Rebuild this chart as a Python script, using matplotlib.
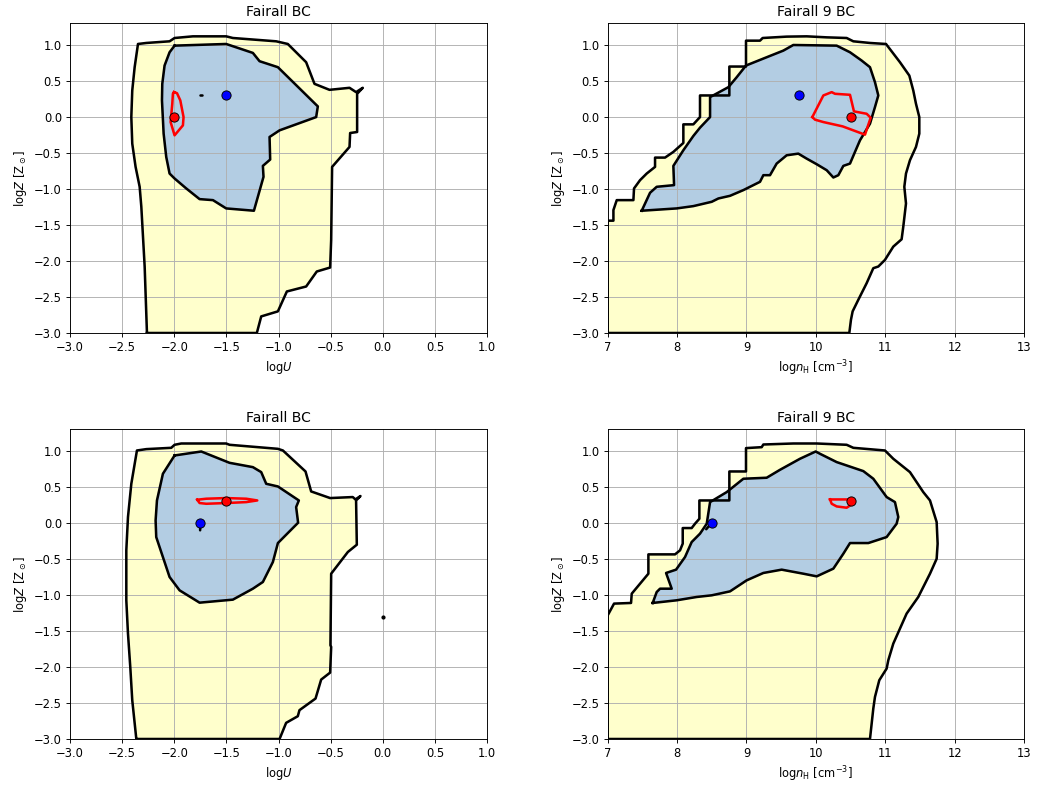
import matplotlib
matplotlib.use("Agg")
import matplotlib.pyplot as plt
import numpy as np

# ---------------- data (contour vertices in data coordinates) ----------------
# Panel 1: Fairall BC, logU
p1_outer_x = [-2.262, -2.284, -2.316, -2.332, -2.371, -2.403, -2.412, -2.403, -2.380, -2.348,
              -2.268, -2.045, -1.997, -1.821, -1.502, -1.438, -1.022, -0.911, -0.735, -0.655,
              -0.511, -0.319, -0.256, -0.192, -0.246, -0.246, -0.313, -0.319, -0.486, -0.495,
              -0.505, -0.633, -0.735, -0.920, -1.006, -1.166, -1.208]
p1_outer_y = [-3.0, -2.078, -1.249, -0.972, -0.696, -0.373, -0.005, 0.364, 0.687, 1.009,
              1.023, 1.046, 1.092, 1.115, 1.115, 1.092, 1.046, 1.009, 0.756, 0.456,
              0.373, 0.401, 0.341, 0.401, 0.318, -0.212, -0.226, -0.419, -0.696, -1.710,
              -2.092, -2.147, -2.355, -2.424, -2.700, -2.770, -3.0]
p1_inner_x = [-1.997, -1.502, -1.246, -1.182, -1.006, -0.623, -0.639, -0.990, -1.086, -1.080,
              -1.150, -1.144, -1.236, -1.502, -1.629, -1.757, -1.885, -1.997, -2.045, -2.077,
              -2.102, -2.118, -2.115, -2.093, -2.045]
p1_inner_y = [0.986, 1.009, 0.885, 0.770, 0.687, 0.143, -0.005, -0.189, -0.281, -0.594,
              -0.682, -0.834, -1.304, -1.272, -1.157, -1.143, -0.995, -0.857, -0.788, -0.558,
              -0.235, 0.226, 0.456, 0.710, 0.894]
p1_red_x = [-2.003, -1.974, -1.942, -1.911, -1.917, -1.997, -2.035, -2.019, -2.013]
p1_red_y = [0.341, 0.327, 0.226, -0.005, -0.120, -0.258, -0.074, 0.180, 0.318]
p1_speck_x = [-1.755, -1.735]
p1_speck_y = [0.296, 0.296]
p1_red_pt = (-2.0, 0.0)
p1_blue_pt = (-1.5, 0.3)

# Panel 2: Fairall 9 BC, log nH
p2_outer_x = [7.0, 7.0, 7.082, 7.082, 7.130, 7.370, 7.379, 7.466, 7.562, 7.682, 7.682, 7.826,
              7.946, 8.090, 8.090, 8.234, 8.330, 8.330, 8.753, 8.753, 8.993, 8.993, 9.195,
              9.233, 9.579, 9.867, 10.156, 10.444, 10.540, 10.780, 11.011, 11.212, 11.347,
              11.404, 11.443, 11.491, 11.491, 11.443, 11.356, 11.299, 11.275, 11.299, 11.260,
              11.236, 11.116, 10.996, 10.900, 10.828, 10.732, 10.612, 10.530, 10.506, 10.482]
p2_outer_y = [-3.0, -1.442, -1.442, -1.295, -1.157, -1.157, -0.995, -0.880, -0.788, -0.696,
              -0.567, -0.567, -0.488, -0.364, -0.106, -0.106, -0.005, 0.295, 0.295, 0.696,
              0.696, 1.055, 1.055, 1.092, 1.111, 1.115, 1.101, 1.092, 1.046, 1.023, 1.009,
              0.756, 0.571, 0.364, 0.180, -0.005, -0.235, -0.419, -0.604, -0.788, -0.972,
              -1.203, -1.525, -1.700, -1.802, -1.986, -2.078, -2.101, -2.309, -2.539, -2.700,
              -2.816, -3.0]
p2_inner_x = [7.490, 7.994, 8.234, 8.499, 8.595, 8.763, 8.955, 9.195, 9.243, 9.339, 9.435,
              9.579, 9.747, 9.867, 10.012, 10.156, 10.252, 10.324, 10.396, 10.492, 10.564,
              10.636, 10.780, 10.852, 10.900, 10.852, 10.780, 10.660, 10.492, 10.300, 9.675,
              9.531, 9.291, 9.195, 8.993, 8.859, 8.739, 8.475, 8.475, 8.330, 8.234, 8.090,
              7.946, 7.956, 7.706, 7.610]
p2_inner_y = [-1.304, -1.272, -1.240, -1.180, -1.134, -1.097, -1.018, -0.903, -0.811, -0.811,
              -0.650, -0.535, -0.512, -0.581, -0.659, -0.742, -0.843, -0.811, -0.682, -0.650,
              -0.488, -0.327, -0.097, 0.134, 0.295, 0.479, 0.687, 0.779, 0.894, 0.986, 0.995,
              0.917, 0.825, 0.788, 0.710, 0.548, 0.410, 0.272, -0.005, -0.152, -0.267, -0.465,
              -0.682, -0.949, -0.972, -1.055]
p2_red_x = [9.949, 10.108, 10.228, 10.276, 10.492, 10.549, 10.732, 10.790, 10.708, 10.386,
            10.108, 9.988]
p2_red_y = [-0.005, 0.295, 0.341, 0.318, 0.304, 0.074, 0.041, -0.014, -0.249, -0.134,
            -0.074, -0.041]
p2_red_pt = (10.5, 0.0)
p2_blue_pt = (9.75, 0.3)

# Panel 3: Fairall BC, logU
p3_outer_x = [-2.364, -2.403, -2.422, -2.444, -2.460, -2.460, -2.444, -2.412, -2.358, -2.268,
              -2.029, -1.997, -1.933, -1.502, -1.470, -1.006, -0.958, -0.741, -0.687, -0.505,
              -0.288, -0.262, -0.214, -0.256, -0.249, -0.335, -0.495, -0.502, -0.495, -0.505,
              -0.591, -0.645, -0.799, -0.815, -0.927, -0.990]
p3_outer_y = [-3.0, -2.462, -2.0, -1.538, -1.076, -0.383, 0.079, 0.540, 1.002, 1.021,
              1.039, 1.081, 1.099, 1.099, 1.081, 1.025, 1.002, 0.711, 0.434, 0.342,
              0.356, 0.323, 0.370, 0.309, -0.305, -0.406, -0.707, -1.700, -1.723, -2.079,
              -2.176, -2.439, -2.600, -2.684, -2.776, -3.0]
p3_inner_x = [-1.997, -1.741, -1.470, -1.246, -1.166, -1.118, -1.006, -0.805, -0.831, -0.812,
              -1.006, -1.054, -1.150, -1.246, -1.438, -1.757, -1.949, -2.045, -2.173, -2.179,
              -2.166, -2.109]
p3_inner_y = [0.933, 0.988, 0.831, 0.771, 0.702, 0.540, 0.503, 0.309, 0.217, 0.0,
              -0.282, -0.545, -0.822, -0.915, -1.067, -1.109, -0.938, -0.753, -0.199, 0.032,
              0.309, 0.679]
p3_red_x = [-1.780, -1.693, -1.502, -1.310, -1.204, -1.310, -1.502, -1.693, -1.757]
p3_red_y = [0.319, 0.333, 0.342, 0.333, 0.309, 0.286, 0.273, 0.263, 0.273]
p3_tail_x = [-1.75, -1.752]
p3_tail_y = [0.0, -0.105]
p3_speck_x = [0.0]
p3_speck_y = [-1.307]
p3_red_pt = (-1.5, 0.3)
p3_blue_pt = (-1.75, 0.0)

# Panel 4: Fairall 9 BC, log nH
p4_outer_x = [7.0, 7.0, 7.091, 7.336, 7.346, 7.586, 7.586, 7.970, 8.042, 8.081, 8.081, 8.210,
              8.258, 8.321, 8.321, 8.753, 8.753, 8.993, 8.993, 9.219, 9.243, 9.675, 10.012,
              10.444, 10.540, 10.996, 11.116, 11.356, 11.548, 11.645, 11.741, 11.755, 11.741,
              11.645, 11.476, 11.308, 11.212, 11.116, 11.044, 11.020, 10.914, 10.852, 10.828,
              10.780]
p4_outer_y = [-3.0, -1.284, -1.122, -1.113, -0.984, -0.707, -0.439, -0.439, -0.383, -0.290,
              -0.074, -0.074, -0.014, 0.055, 0.309, 0.309, 0.711, 0.711, 1.035, 1.048, 1.085,
              1.099, 1.099, 1.081, 1.039, 1.002, 0.887, 0.702, 0.425, 0.309, 0.009, -0.291,
              -0.500, -0.707, -1.030, -1.261, -1.469, -1.677, -1.908, -2.023, -2.185, -2.416,
              -2.577, -3.0]
p4_inner_x = [7.648, 7.706, 7.754, 7.922, 7.841, 7.985, 8.114, 8.210, 8.330, 8.427, 8.475,
              8.715, 8.955, 9.291, 9.483, 9.771, 9.997, 10.060, 10.300, 10.684, 10.828, 11.020,
              11.140, 11.188, 11.164, 11.020, 10.756, 10.492, 10.396, 10.252, 10.012, 9.819,
              9.507, 9.243, 9.003, 8.763, 8.499, 8.282, 7.994]
p4_inner_y = [-1.113, -0.961, -0.915, -0.915, -0.697, -0.651, -0.476, -0.268, -0.152, -0.014,
              0.286, 0.425, 0.610, 0.624, 0.734, 0.887, 0.988, 0.956, 0.841, 0.716, 0.610,
              0.356, 0.286, 0.079, -0.014, -0.199, -0.282, -0.282, -0.430, -0.637, -0.744,
              -0.707, -0.651, -0.697, -0.799, -0.952, -1.007, -1.030, -1.076]
p4_red_x = [10.204, 10.492, 10.530, 10.444, 10.300, 10.228, 10.204]
p4_red_y = [0.323, 0.323, 0.263, 0.208, 0.226, 0.263, 0.323]
p4_tail_x = [8.5, 8.42]
p4_tail_y = [0.0, -0.09]
p4_red_pt = (10.5, 0.3)
p4_blue_pt = (8.5, 0.0)

titles = ["Fairall BC", "Fairall 9 BC", "Fairall BC", "Fairall 9 BC"]
xlabel_U = r"log$U$"
xlabel_n = r"log$n_{\rm H}$ [cm$^{-3}$]"
ylabel = r"log$Z$ [Z$_\odot$]"
xticks_U = [-3.0, -2.5, -2.0, -1.5, -1.0, -0.5, 0.0, 0.5, 1.0]
xticks_n = [7, 8, 9, 10, 11, 12, 13]
yticks = [-3.0, -2.5, -2.0, -1.5, -1.0, -0.5, 0.0, 0.5, 1.0]

YELLOW = "#ffffcc"
BLUE = "#b3cde3"
S = 0.83  # global scale of text / lines

fig = plt.figure(figsize=(10.56, 7.85), dpi=100)
positions = [
    [0.0663, 0.5758, 0.3949, 0.3949],
    [0.5755, 0.5758, 0.3942, 0.3949],
    [0.0663, 0.0586, 0.3949, 0.3949],
    [0.5755, 0.0586, 0.3942, 0.3949],
]

panels = [
    dict(outer=(p1_outer_x, p1_outer_y), inner=(p1_inner_x, p1_inner_y),
         red=(p1_red_x, p1_red_y), extra=[(p1_speck_x, p1_speck_y)],
         rpt=p1_red_pt, bpt=p1_blue_pt, xlim=(-3, 1), xt=xticks_U, xl=xlabel_U, U=True),
    dict(outer=(p2_outer_x, p2_outer_y), inner=(p2_inner_x, p2_inner_y),
         red=(p2_red_x, p2_red_y), extra=[],
         rpt=p2_red_pt, bpt=p2_blue_pt, xlim=(7, 13), xt=xticks_n, xl=xlabel_n, U=False),
    dict(outer=(p3_outer_x, p3_outer_y), inner=(p3_inner_x, p3_inner_y),
         red=(p3_red_x, p3_red_y), extra=[(p3_tail_x, p3_tail_y)],
         rpt=p3_red_pt, bpt=p3_blue_pt, xlim=(-3, 1), xt=xticks_U, xl=xlabel_U, U=True),
    dict(outer=(p4_outer_x, p4_outer_y), inner=(p4_inner_x, p4_inner_y),
         red=(p4_red_x, p4_red_y), extra=[(p4_tail_x, p4_tail_y)],
         rpt=p4_red_pt, bpt=p4_blue_pt, xlim=(7, 13), xt=xticks_n, xl=xlabel_n, U=False),
]

for i, (pos, p) in enumerate(zip(positions, panels)):
    ax = fig.add_axes(pos)
    ox, oy = p["outer"]
    ix, iy = p["inner"]
    rx, ry = p["red"]
    ax.fill(ox, oy, color=YELLOW, zorder=1)
    ax.fill(ix, iy, color=BLUE, zorder=1.1)
    ax.plot(list(ox) + [ox[0]], list(oy) + [oy[0]], color="black", lw=2.2 * S, zorder=2,
            solid_joinstyle="round")
    ax.plot(list(ix) + [ix[0]], list(iy) + [iy[0]], color="black", lw=2.2 * S, zorder=2,
            solid_joinstyle="round")
    ax.plot(list(rx) + [rx[0]], list(ry) + [ry[0]], color="red", lw=2.2 * S, zorder=3)
    for ex, ey in p["extra"]:
        ax.plot(ex, ey, color="black", lw=2.2 * S, zorder=2.5, solid_capstyle="round")
    ax.plot([p["bpt"][0]], [p["bpt"][1]], "o", color="blue", mec="black", mew=0.8 * S,
            ms=8 * S, zorder=4)
    ax.plot([p["rpt"][0]], [p["rpt"][1]], "o", color="red", mec="black", mew=0.8 * S,
            ms=8 * S, zorder=4)
    if i == 2:
        ax.plot(p3_speck_x, p3_speck_y, "o", color="black", ms=2, zorder=4)
    ax.set_xlim(*p["xlim"])
    ax.set_ylim(-3, 1.3)
    ax.set_xticks(p["xt"])
    ax.set_yticks(yticks)
    if p["U"]:
        ax.set_xticklabels([f"{v:.1f}".replace("-", "\u2212") for v in p["xt"]])
    ax.set_yticklabels([f"{v:.1f}".replace("-", "\u2212") for v in yticks])
    ax.grid(True, color="#b0b0b0", lw=0.8 * S)
    for sp in ax.spines.values():
        sp.set_linewidth(0.8 * S)
    ax.set_title(titles[i], fontsize=12 * S, pad=6 * S)
    ax.set_xlabel(p["xl"], fontsize=10 * S, labelpad=4 * S)
    ax.set_ylabel(ylabel, fontsize=10 * S, labelpad=4 * S)
    ax.tick_params(labelsize=10 * S, length=3.5 * S, width=0.8 * S, pad=3.5 * S)

fig.savefig("out.png", dpi=100)
